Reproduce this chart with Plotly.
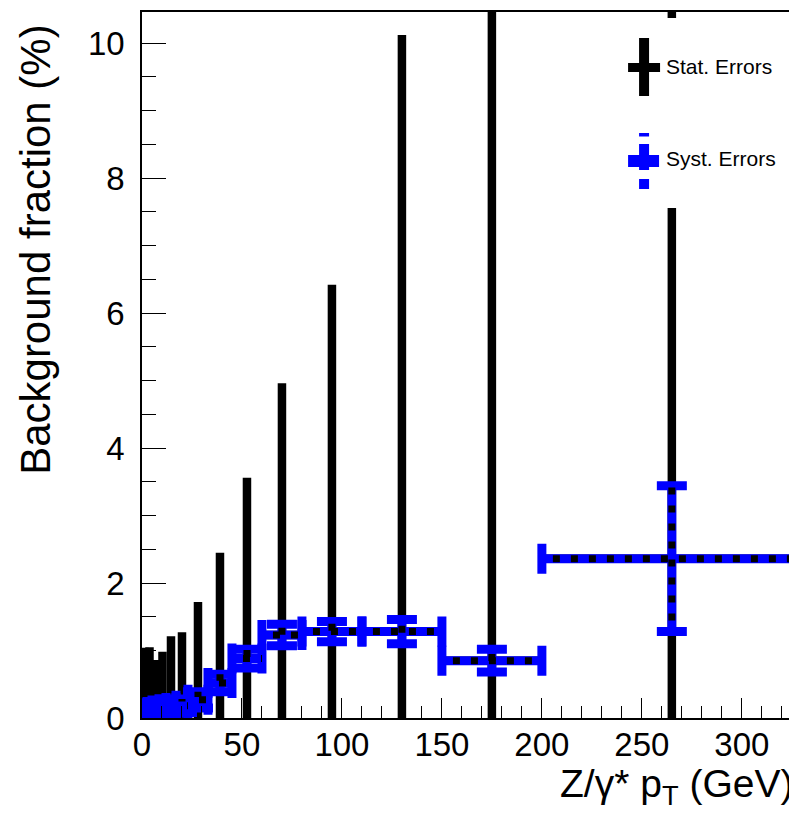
import plotly.graph_objects as go

# ---- data ----
bin_lo = [0, 2.5, 5, 8.5, 12, 17, 23, 33, 45, 60, 80, 110, 150, 200]
bin_hi = [2.5, 5, 8.5, 12, 17, 23, 33, 45, 60, 80, 110, 150, 200, 330]
pt_center = [1.25, 3.75, 6.75, 10.25, 14.5, 20, 28, 39, 52.5, 70, 95, 130, 175, 265]
bkg_frac = [0.07, 0.09, 0.11, 0.13, 0.15, 0.18, 0.27, 0.52, 0.88, 1.23, 1.28, 1.28, 0.85, 2.36]
stat_err = [0.97, 0.96, 0.75, 0.85, 1.06, 1.09, 1.45, 1.93, 2.68, 3.73, 5.14, 8.84, 10.0, 9.0]
syst_err = [0.08, 0.08, 0.08, 0.08, 0.08, 0.10, 0.12, 0.13, 0.14, 0.16, 0.15, 0.18, 0.17, 1.08]

x_tickvals = [0, 50, 100, 150, 200, 250, 300]
y_tickvals = [0, 2, 4, 6, 8, 10]

BLUE = "#0000FF"
FONT = "Liberation Sans, Arial, Helvetica, sans-serif"

err_plus = [h - c for h, c in zip(bin_hi, pt_center)]
err_minus = [c - l for c, l in zip(pt_center, bin_lo)]

fig = go.Figure()

# statistical errors (black)
fig.add_trace(go.Scatter(
    x=pt_center, y=bkg_frac, mode="markers",
    marker=dict(size=2, color="black", opacity=0),
    error_x=dict(type="data", symmetric=False, array=err_plus, arrayminus=err_minus,
                 thickness=8.5, width=0, color="black"),
    error_y=dict(type="data", array=stat_err, thickness=8.5, width=0, color="black"),
    showlegend=False, hoverinfo="skip",
))

# systematic errors (blue, with end caps)
fig.add_trace(go.Scatter(
    x=pt_center, y=bkg_frac, mode="markers",
    marker=dict(size=2, color=BLUE, opacity=0),
    error_x=dict(type="data", symmetric=False, array=err_plus, arrayminus=err_minus,
                 thickness=9, width=15, color=BLUE),
    error_y=dict(type="data", array=syst_err, thickness=9, width=15, color=BLUE),
    cliponaxis=False, showlegend=False, hoverinfo="skip",
))

# black dashes through the systematic bars (dashed line look)
dx, dy = [], []
for lo, hi, c, v, s in zip(bin_lo, bin_hi, pt_center, bkg_frac, syst_err):
    dx += [lo, hi, None, c, c, None]
    dy += [v, v, None, v - s, v + s, None]
fig.add_trace(go.Scatter(
    x=dx, y=dy, mode="lines",
    line=dict(color="black", width=7, dash="0px,11px,7px,0px"),
    showlegend=False, hoverinfo="skip",
))

# ---- geometry helpers (window pixels -> paper coords); page has an 8px body margin ----
X0, Y0, W, H = 141.7, 718.0, 655.3, 706.0
def px(x):
    return (x - X0) / W
def py(y):
    return (Y0 - y) / H

shapes = [
    dict(type="rect", xref="paper", yref="paper", x0=px(600), x1=1.0, y0=py(208), y1=py(18),
         fillcolor="white", line=dict(width=0), layer="above"),
    dict(type="line", xref="paper", yref="paper", x0=px(644), x1=px(644), y0=py(96), y1=py(38),
         line=dict(color="black", width=10), layer="above"),
    dict(type="line", xref="paper", yref="paper", x0=px(628), x1=px(660), y0=py(67.5), y1=py(67.5),
         line=dict(color="black", width=9), layer="above"),
]
for a, b in [(133, 136.5), (144, 153), (153, 170), (179, 189)]:
    shapes.append(dict(type="line", xref="paper", yref="paper", x0=px(644), x1=px(644),
                       y0=py(b), y1=py(a), line=dict(color=BLUE, width=10), layer="above"))
shapes.append(dict(type="line", xref="paper", yref="paper", x0=px(628), x1=px(659),
                   y0=py(161), y1=py(161), line=dict(color=BLUE, width=12), layer="above"))

annotations = [
    dict(text="Stat. Errors", xref="paper", yref="paper", x=px(664), y=py(67),
         xanchor="left", yanchor="middle", showarrow=False,
         font=dict(family=FONT, size=21, color="black")),
    dict(text="Syst. Errors", xref="paper", yref="paper", x=px(664), y=py(158),
         xanchor="left", yanchor="middle", showarrow=False,
         font=dict(family=FONT, size=21, color="black")),
    dict(text="Background fraction (%)", xref="paper", yref="paper", x=px(35), y=py(22),
         xanchor="center", yanchor="top", textangle=-90, showarrow=False,
         font=dict(family=FONT, size=42, color="black")),
    dict(text="Z/γ* p<sub>T</sub> (GeV)", xref="paper", yref="paper", x=px(795), y=py(760),
         xanchor="right", yanchor="top", showarrow=False,
         font=dict(family=FONT, size=39, color="black")),
]

# figure is placed at (8, 8) by the page's body margin, so it is 8px smaller
fig.update_layout(
    width=789, height=812,
    margin=dict(l=134, r=0, t=4, b=102, pad=0),
    paper_bgcolor="white", plot_bgcolor="white",
    font=dict(family=FONT, color="black"),
    showlegend=False,
    shapes=shapes, annotations=annotations,
    xaxis=dict(range=[0, 327.6], tickvals=x_tickvals, ticks="inside", ticklen=20,
               tickwidth=1.2, tickcolor="black", showline=True, linecolor="black",
               linewidth=1.5, mirror=True, showgrid=False, zeroline=False,
               tickfont=dict(family=FONT, size=33, color="black"), ticklabelstandoff=-3,
               minor=dict(dtick=10, tick0=0, ticks="inside", ticklen=12, tickwidth=1.2,
                          tickcolor="black", showgrid=False)),
    yaxis=dict(range=[0, 10.46], tickvals=y_tickvals, ticks="inside", ticklen=24,
               tickwidth=1.2, tickcolor="black", showline=True, linecolor="black",
               linewidth=1.5, mirror=False, showgrid=False, zeroline=False,
               tickfont=dict(family=FONT, size=33, color="black"), ticklabelstandoff=9,
               minor=dict(dtick=0.5, tick0=0, ticks="inside", ticklen=14, tickwidth=1.2,
                          tickcolor="black", showgrid=False)),
)

fig.write_html("out.html")
